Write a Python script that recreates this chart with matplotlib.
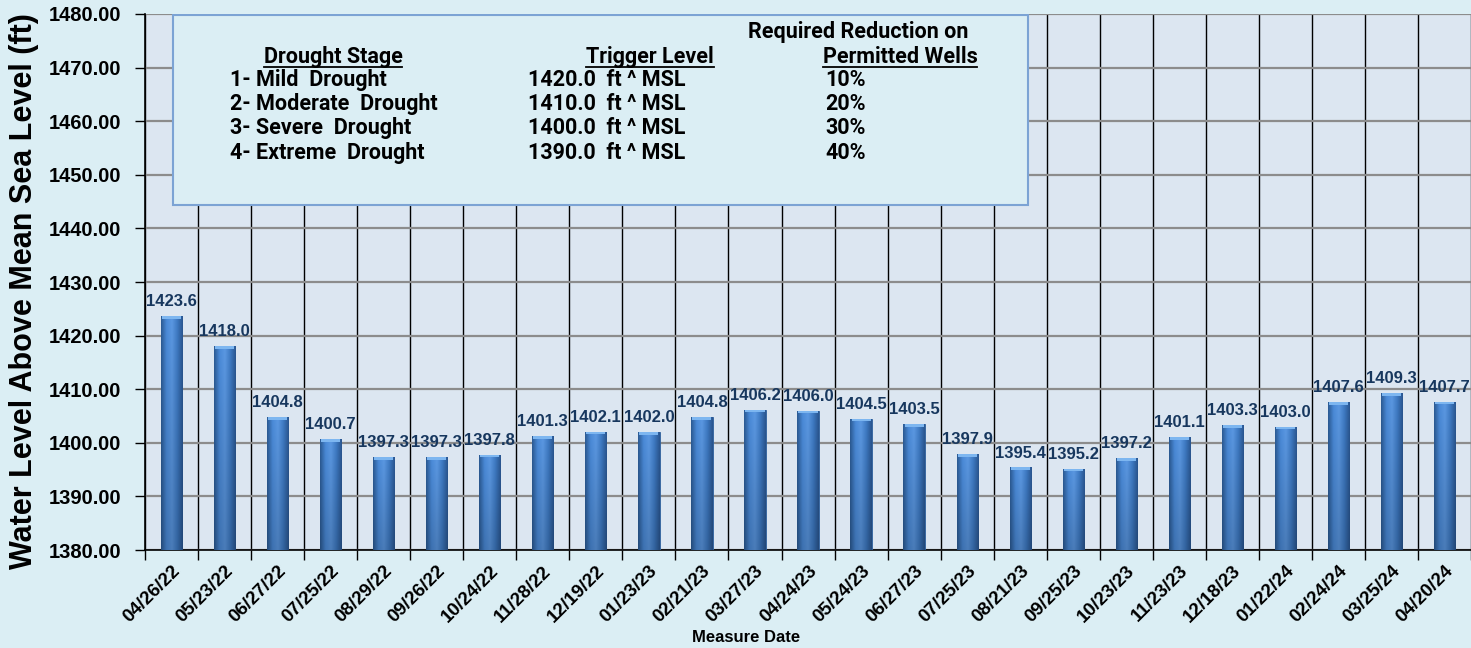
import matplotlib
matplotlib.use("Agg")
import matplotlib.pyplot as plt
import numpy as np
from matplotlib.colors import LinearSegmentedColormap
from matplotlib.lines import Line2D

dates = ["04/26/22", "05/23/22", "06/27/22", "07/25/22", "08/29/22", "09/26/22",
         "10/24/22", "11/28/22", "12/19/22", "01/23/23", "02/21/23", "03/27/23",
         "04/24/23", "05/24/23", "06/27/23", "07/25/23", "08/21/23", "09/25/23",
         "10/23/23", "11/23/23", "12/18/23", "01/22/24", "02/24/24", "03/25/24",
         "04/20/24"]
levels = [1423.6, 1418.0, 1404.8, 1400.7, 1397.3, 1397.3, 1397.8, 1401.3, 1402.1,
          1402.0, 1404.8, 1406.2, 1406.0, 1404.5, 1403.5, 1397.9, 1395.4, 1395.2,
          1397.2, 1401.1, 1403.3, 1403.0, 1407.6, 1409.3, 1407.7]

stages = ["1- Mild  Drought", "2- Moderate  Drought", "3- Severe  Drought", "4- Extreme  Drought"]
triggers = ["1420.0  ft ^ MSL", "1410.0  ft ^ MSL", "1400.0  ft ^ MSL", "1390.0  ft ^ MSL"]
reductions = ["10%", "20%", "30%", "40%"]

fig_bg = "#DBEEF4"
plot_bg = "#DCE6F1"
label_blue = "#17375E"

fig = plt.figure(figsize=(14.71, 6.48), dpi=100, facecolor=fig_bg)
ax = fig.add_axes([0.0986, 0.1512, 0.9014, 0.8272])
ax.set_facecolor(plot_bg)

x = np.arange(len(dates))
bars = ax.bar(x, np.array(levels) - 1380, bottom=1380, width=0.4,
              color="#3E7CC6", edgecolor="#2E5E99", linewidth=0.6, zorder=3)

# cylinder-ish shading inside each bar
cmap = LinearSegmentedColormap.from_list(
    "cyl", ["#2B5A93", "#4A8AD8", "#5B98E2", "#3E7AC3", "#2A5690"])
grad = np.linspace(0, 1, 64).reshape(1, -1)
shade = np.linspace(1.0, 0.82, 64).reshape(-1, 1)
rgb = cmap(np.repeat(grad, 64, axis=0))[:, :, :3] * shade[:, :, None]
for b in bars:
    x0, y0 = b.get_x(), b.get_y()
    w, h = b.get_width(), b.get_height()
    im = ax.imshow(rgb, extent=[x0, x0 + w, y0, y0 + h], aspect="auto",
                   origin="upper", zorder=3.5, interpolation="bilinear")
    im.set_clip_path(b)
    ax.bar(x0 + w / 2, 0.5, bottom=y0 + h - 0.5, width=w * 0.9,
           color="#7DB6F0", linewidth=0, zorder=3.6)

for xi, v in zip(x, levels):
    ax.annotate(f"{v:.1f}", (xi, v), xytext=(0, 5), textcoords="offset points",
                ha="center", va="bottom", fontsize=12, fontweight="bold",
                color=label_blue, family="Liberation Sans", zorder=5)

ax.set_xlim(-0.5, len(dates) - 0.5)
ax.set_ylim(1380, 1480)
ax.set_yticks(np.arange(1380, 1481, 10))
ax.set_yticklabels([f"{t:.2f}" for t in np.arange(1380, 1481, 10)],
                   fontsize=14.5, fontweight="bold", family="Liberation Sans")
ax.set_xticks(x)
ax.set_xticklabels(dates, rotation=45, ha="right", rotation_mode="anchor",
                   fontsize=13.5, fontweight="bold", family="Liberation Sans")
ax.tick_params(axis="x", length=0, pad=9)
ax.set_xticks(np.arange(-0.5, len(dates)), minor=True)
ax.tick_params(axis="x", which="minor", length=7, width=1, color="black")
ax.tick_params(axis="y", length=7, width=1, color="black", pad=10)

ax.grid(axis="y", color="#8C8C8C", linewidth=1.6, zorder=1)
ax.grid(axis="x", which="minor", color="black", linewidth=1.0, zorder=1)
ax.set_axisbelow(True)
for s in ["top", "right"]:
    ax.spines[s].set_visible(False)
ax.spines["left"].set_linewidth(1.2)
ax.spines["bottom"].set_linewidth(1.2)

fig.text(0.016, 0.551, "Water Level Above Mean Sea Level (ft)", rotation=90,
         ha="center", va="center", fontsize=22, fontweight="bold",
         family="Liberation Sans")
fig.text(0.507, 0.016, "Measure Date", ha="center", va="center",
         fontsize=12, fontweight="bold", family="Liberation Sans")

# drought stage table box
box = plt.Rectangle((0.03, 1444.4), 16.12, 35.5, facecolor="#DBEEF4",
                    edgecolor="#7CA3D4", linewidth=1.5, zorder=6)
ax.add_patch(box)

tkw = dict(fontsize=15.5, fontweight="bold", family="Roboto", color="black",
           transform=fig.transFigure, zorder=7)
W, H = 1471.0, 648.0
headers = []
headers.append(fig.text(333 / W, 1 - 57 / H, "Drought Stage", ha="center", va="center", **tkw))
headers.append(fig.text(650 / W, 1 - 57 / H, "Trigger Level", ha="center", va="center", **tkw))
fig.text(858 / W, 1 - 32 / H, "Required Reduction on", ha="center", va="center", **tkw)
headers.append(fig.text(900 / W, 1 - 57 / H, "Permitted Wells", ha="center", va="center", **tkw))
for i, (s, t, r) in enumerate(zip(stages, triggers, reductions)):
    yy = 1 - (80 + 24.2 * i) / H
    fig.text(230 / W, yy, s, ha="left", va="center", **tkw)
    fig.text(528 / W, yy, t, ha="left", va="center", **tkw)
    fig.text(825 / W, yy, r, ha="left", va="center", **tkw)

fig.canvas.draw()
renderer = fig.canvas.get_renderer()
for h in headers:
    bb = h.get_window_extent(renderer)
    fig.add_artist(Line2D([bb.x0 / W, bb.x1 / W], [(bb.y0 + 1) / H] * 2,
                          color="black", linewidth=1.3, zorder=8))

fig.savefig("out.png", dpi=100, facecolor=fig_bg)
